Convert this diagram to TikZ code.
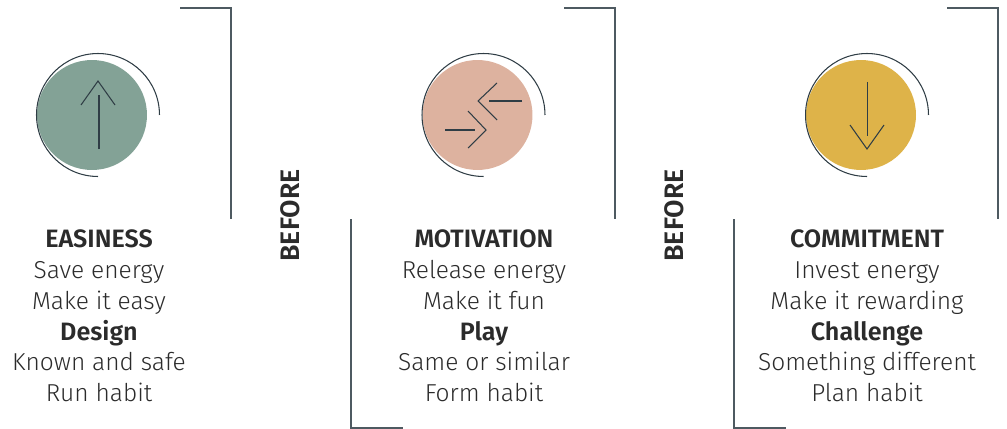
\documentclass[tikz,border=0pt]{standalone}
\usepackage{fontspec}
\setmainfont{Fira Sans Light}[BoldFont={Fira Sans SemiBold}]
\usepackage{xcolor}
\definecolor{sagegreen}{HTML}{83A296}
\definecolor{peachskin}{HTML}{DDB29F}
\definecolor{mustard}{HTML}{DEB349}
\definecolor{inkline}{HTML}{2F3D45}
\definecolor{textgrey}{HTML}{2B2B2B}
\newcommand{\habitdisc}[3]{%
  \fill[#3] (#1,115) circle (1.1cm);
  \draw[thinline] ($(#2,115)+(0,-1.23cm)$) arc[start angle=270,end angle=0,radius=1.23cm];
}
\newcommand{\habithead}[1]{{\fontsize{14.3}{17.5}\selectfont\bfseries #1}}
\newcommand{\habitcolumn}[8]{%
  \node[habittext] (#1) at (#2,316) {\habithead{#3}\\#4\\#5\\\habithead{#6}\\#7\\#8};
}
\tikzset{
  thinline/.style={draw=inkline,line width=0.6pt},
  frameline/.style={draw=inkline!85,line width=0.65pt},
  habittext/.style={text=textgrey,align=center,inner sep=0pt,font=\fontsize{13.95}{17.5}\selectfont},
  beforetext/.style={rotate=90,text=textgrey,inner sep=0pt,font=\fontsize{15.2}{17}\selectfont\bfseries}
}
\usetikzlibrary{calc}
\begin{document}
\begin{tikzpicture}[x=0.02cm,y=-0.02cm]
  \useasboundingbox (0,0) rectangle (1007,429);
  % discs
  \habitdisc{92}{98}{sagegreen}
  \habitdisc{477.5}{483.5}{peachskin}
  \habitdisc{861}{867}{mustard}
  % arrows
  \draw[thinline] (99,149) -- (99,95);
  \draw[thinline] (81,105) -- (98,81) -- (115,105);
  \draw[thinline] (522,101) -- (489,101);
  \draw[thinline] (497,83) -- (478,101) -- (497,120);
  \draw[thinline] (445,130) -- (475,130);
  \draw[thinline] (468,111) -- (486,130) -- (468,148);
  \draw[thinline] (867.5,82) -- (867.5,136);
  \draw[thinline] (850,125) -- (867,149) -- (884,125);
  % frames
  \draw[frameline] (180,8) -- (231,8) -- (231,219);
  \draw[frameline] (564,8) -- (615,8) -- (615,219);
  \draw[frameline] (947,8) -- (998,8) -- (998,219);
  \draw[frameline] (351,219) -- (351,428) -- (403,428);
  \draw[frameline] (734,219) -- (734,428) -- (786,428);
  % text
  \habitcolumn{easiness}{99}{EASINESS}{Save energy}{Make it easy}{Design}{Known and safe}{Run habit}
  \habitcolumn{motivation}{484}{MOTIVATION}{Release energy}{Make it fun}{Play}{Same or similar}{Form habit}
  \habitcolumn{commitment}{867}{COMMITMENT}{Invest energy}{Make it rewarding}{Challenge}{Something different}{Plan habit}
  \node[beforetext] (before1) at (290,215.5) {BEFORE};
  \node[beforetext] (before2) at (674,215.5) {BEFORE};
\end{tikzpicture}
\end{document}
